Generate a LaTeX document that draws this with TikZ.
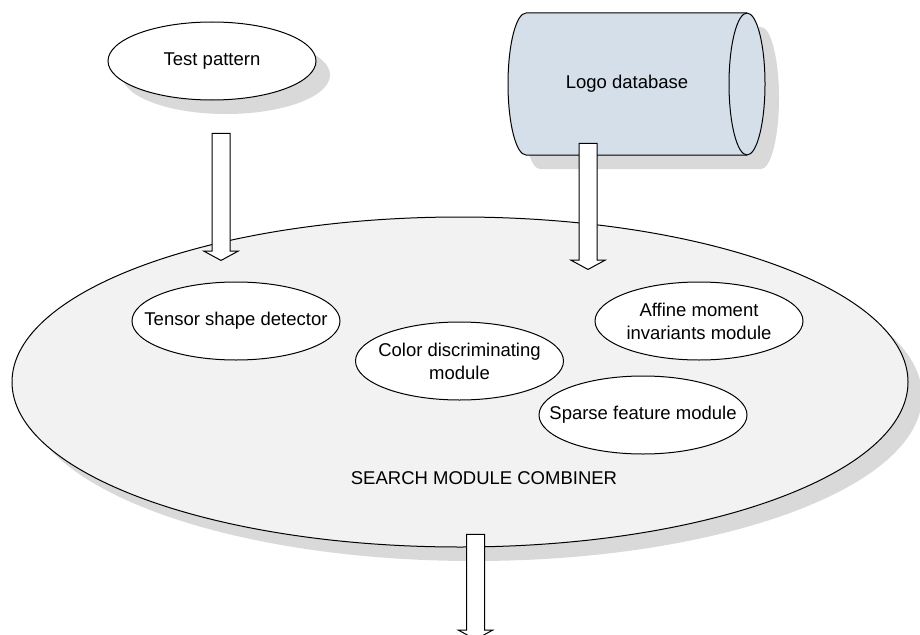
\documentclass[tikz,border=0pt]{standalone}
\usepackage{fontspec}
\setmainfont{Liberation Sans}
\usetikzlibrary{shapes.geometric,shapes.arrows,shadows}
\definecolor{dbblue}{RGB}{213,223,234}
\definecolor{combgray}{RGB}{242,242,242}
\definecolor{shadowgray}{RGB}{217,217,217}

\tikzset{
  module/.style={ellipse,draw,fill=white,inner sep=0pt,
    minimum width=208pt,minimum height=78pt,
    label={[align=center]center:#1}},
  boxshadow/.style={drop shadow={shadow xshift=14pt,shadow yshift=-14pt,
    fill=shadowgray,opacity=1}},
  flowarrow/.style={single arrow,draw,fill=white,inner sep=8.5pt,
    single arrow head extend=8pt,
    single arrow tip angle=123,shape border rotate=270}
}

\begin{document}
\begin{tikzpicture}[x=1pt,y=-1pt,line width=1pt,
  every node/.style={font=\fontsize{18.5}{23}\selectfont}]
  \useasboundingbox (0,0) rectangle (920,634);
  % combiner
  \node[ellipse,draw,fill=combgray,boxshadow,
    minimum width=896pt,minimum height=330pt] (combiner) at (460,382) {};
  \node (combinerlabel) at (484,478) {SEARCH MODULE COMBINER};
  % inputs
  \node[module={Test pattern},boxshadow] (test) at (212,61) {};
  \fill[shadowgray] (540,27) -- (761,27)
    arc[start angle=-90,end angle=90,x radius=18,y radius=71]
    -- (540,169) arc[start angle=90,end angle=270,x radius=18,y radius=71];
  \draw[fill=dbblue] (526,13) -- (747,13)
    arc[start angle=-90,end angle=90,x radius=18,y radius=71]
    -- (526,155) arc[start angle=90,end angle=270,x radius=18,y radius=71];
  \draw (747,13) arc[start angle=-90,end angle=-270,x radius=18,y radius=71];
  \node (db) at (627,84) {Logo database};
  % modules
  \node[module={Tensor shape detector}] (tensor) at (236,321) {};
  \node[module={Color discriminating\\module}] (color) at (459.5,361) {};
  \node[module={Affine moment\\invariants module}] (affine) at (699,321) {};
  \node[module={Sparse feature module}] (sparse) at (643,415) {};
  % arrows
  \node[flowarrow,minimum height=127pt] (testarrow) at (221,194.5) {};
  \node[flowarrow,minimum height=126pt] (dbarrow) at (588,204) {};
  \node[flowarrow,minimum height=105pt] (outarrow) at (475.5,584.5) {};
\end{tikzpicture}
\end{document}
